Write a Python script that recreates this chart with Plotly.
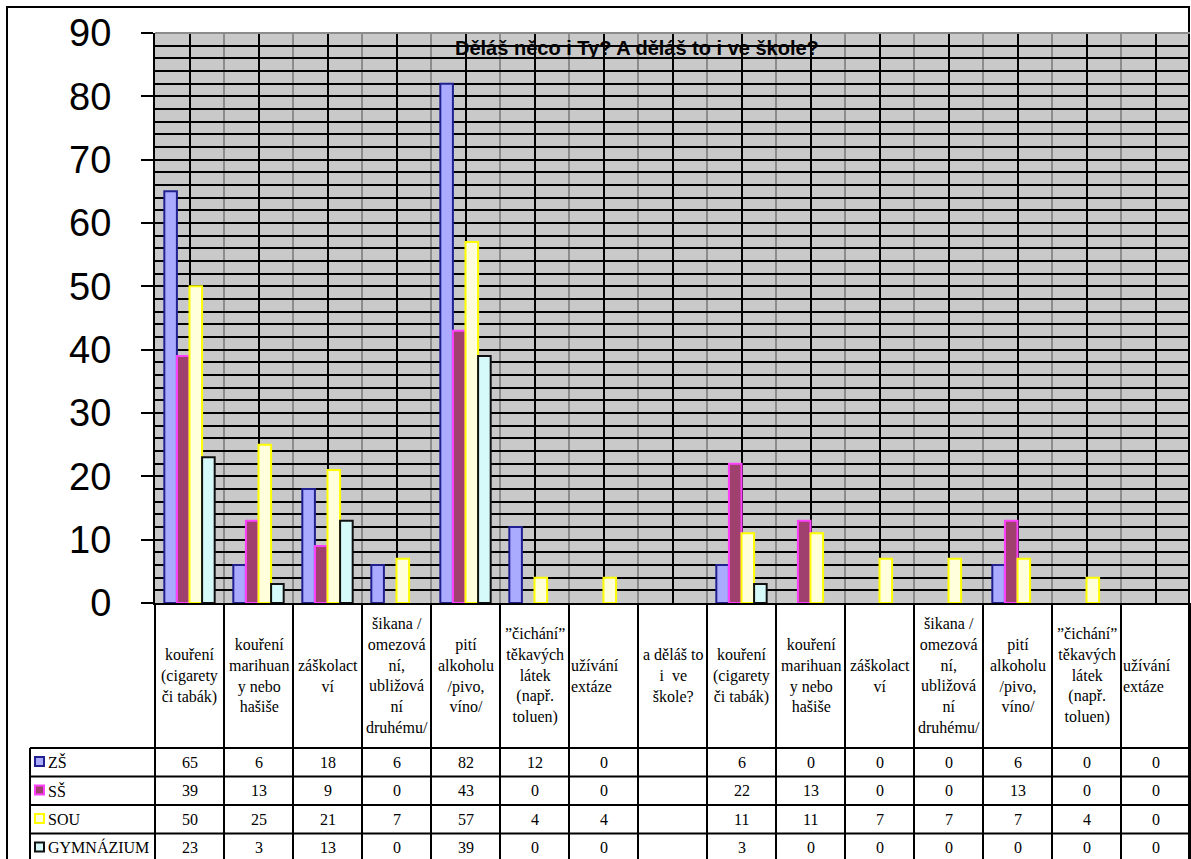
import plotly.graph_objects as go

# ---------------- data ----------------
categories = [
    "kou\u0159en\u00ed<br>(cigarety<br>\u010di tab\u00e1k)",
    "kou\u0159en\u00ed<br>marihuan<br>y nebo<br>ha\u0161i\u0161e",
    "z\u00e1\u0161kolact<br>v\u00ed",
    "\u0161ikana /<br>omezov\u00e1<br>n\u00ed,<br>ubli\u017eov\u00e1<br>n\u00ed<br>druh\u00e9mu/",
    "pit\u00ed<br>alkoholu<br>/pivo,<br>v\u00edno/",
    "\u201d\u010dich\u00e1n\u00ed\u201d<br>t\u011bkav\u00fdch<br>l\u00e1tek<br>(nap\u0159.<br>toluen)",
    "u\u017e\u00edv\u00e1n\u00ed<br>ext\u00e1ze",
    "a d\u011bl\u00e1\u0161 to<br>i  ve<br>\u0161kole?",
    "kou\u0159en\u00ed<br>(cigarety<br>\u010di tab\u00e1k)",
    "kou\u0159en\u00ed<br>marihuan<br>y nebo<br>ha\u0161i\u0161e",
    "z\u00e1\u0161kolact<br>v\u00ed",
    "\u0161ikana /<br>omezov\u00e1<br>n\u00ed,<br>ubli\u017eov\u00e1<br>n\u00ed<br>druh\u00e9mu/",
    "pit\u00ed<br>alkoholu<br>/pivo,<br>v\u00edno/",
    "\u201d\u010dich\u00e1n\u00ed\u201d<br>t\u011bkav\u00fdch<br>l\u00e1tek<br>(nap\u0159.<br>toluen)",
    "u\u017e\u00edv\u00e1n\u00ed<br>ext\u00e1ze",
]
series_names = ["Z\u0160", "S\u0160", "SOU", "GYMN\u00c1ZIUM"]
zs = [65, 6, 18, 6, 82, 12, 0, None, 6, 0, 0, 0, 6, 0, 0]
ss = [39, 13, 9, 0, 43, 0, 0, None, 22, 13, 0, 0, 13, 0, 0]
sou = [50, 25, 21, 7, 57, 4, 4, None, 11, 11, 7, 7, 7, 4, 0]
gym = [23, 3, 13, 0, 39, 0, 0, None, 3, 0, 0, 0, 0, 0, 0]
title_text = "D\u011bl\u00e1\u0161 n\u011bco i Ty? A d\u011bl\u00e1\u0161 to i ve \u0161kole?"

# ---------------- styles ----------------
fills = ["#AAAAFF", "#A0406E", "#FFFFDC", "#D6FAFA"]
edges = ["#202090", "#FF40FF", "#FFFF00", "#111111"]
W, H = 1191, 859
L, R, T, B = 155, 1, 33, 256
PW = W - L - R
PH = H - T - B


def px(xp):
    return (xp - L) / PW


def py(yp):
    return 1 - (yp - T) / PH


n = len(categories)
xs = list(range(n))
series = [zs, ss, sou, gym]

fig = go.Figure()
for name, vals, fc, ec in zip(series_names, series, fills, edges):
    # zero values are not drawn as bars (as in the original chart)
    fig.add_trace(go.Bar(
        x=xs, y=[v if v else None for v in vals], name=name,
        marker=dict(color=fc, line=dict(color=ec, width=2)),
        showlegend=False, hoverinfo="skip",
    ))

shapes = []
annotations = []

# title inside plot
annotations.append(dict(
    xref="paper", yref="paper", x=px(637), y=py(48), text="<b>" + title_text + "</b>",
    showarrow=False, xanchor="center", yanchor="middle",
    font=dict(family="Liberation Sans, Arial", size=20, color="black"),
))

# ---------------- data table ----------------
row_lines = [748, 776.5, 805, 833.5, 862]
row_centers = [762, 790.5, 819, 847.5]
header_center = 675.5
serif = dict(family="Liberation Serif, Times New Roman", size=16, color="black")

# column verticals (category boundaries)
for k in range(n + 1):
    xb = k - 0.5
    if k == 0:
        shapes.append(dict(type="line", xref="paper", yref="paper", x0=0, x1=0,
                           y0=py(603), y1=py(870), line=dict(color="black", width=2)))
    elif k == n:
        shapes.append(dict(type="line", xref="paper", yref="paper", x0=1, x1=1,
                           y0=py(603), y1=py(870), line=dict(color="black", width=2)))
    else:
        shapes.append(dict(type="line", xref="x", yref="paper", x0=xb, x1=xb,
                           y0=py(603), y1=py(870), line=dict(color="black", width=2)))

# legend column left border
shapes.append(dict(type="line", xref="paper", yref="paper", x0=px(30), x1=px(30),
                   y0=py(748), y1=py(870), line=dict(color="black", width=2)))
# row lines
for yl in row_lines:
    shapes.append(dict(type="line", xref="paper", yref="paper", x0=px(30), x1=1,
                       y0=py(yl), y1=py(yl), line=dict(color="black", width=2)))

# header labels
for i, cat in enumerate(categories):
    if cat.startswith("u\u017e\u00edv\u00e1n\u00ed"):
        annotations.append(dict(xref="x", yref="paper", x=i - 0.5, y=py(header_center),
                                text=cat, showarrow=False, xanchor="left", yanchor="middle",
                                align="left", font=serif))
    else:
        annotations.append(dict(xref="x", yref="paper", x=i, y=py(header_center),
                                text=cat, showarrow=False, xanchor="center", yanchor="middle",
                                align="center", font=serif))

# cell values and legend keys
for r, (name, vals, fc, ec) in enumerate(zip(series_names, series, fills, edges)):
    yc = row_centers[r]
    for i, v in enumerate(vals):
        if v is None:
            continue
        annotations.append(dict(xref="x", yref="paper", x=i, y=py(yc), text=str(v),
                                showarrow=False, xanchor="center", yanchor="middle", font=serif))
    shapes.append(dict(type="rect", xref="paper", yref="paper",
                       x0=px(35), x1=px(44), y0=py(yc + 4), y1=py(yc - 5),
                       fillcolor=fc, line=dict(color=ec, width=2)))
    annotations.append(dict(xref="paper", yref="paper", x=px(46), y=py(yc), text=name,
                            showarrow=False, xanchor="left", yanchor="middle", font=serif))

# grey top border of the plot area
shapes.append(dict(type="line", xref="paper", yref="paper", x0=0, x1=1, y0=1, y1=1,
                   line=dict(color="#8C8C8C", width=2)))

# outer chart border
shapes.append(dict(type="rect", xref="paper", yref="paper", x0=px(7), x1=px(1189),
                   y0=py(880), y1=py(7), line=dict(color="black", width=2),
                   fillcolor="rgba(0,0,0,0)", layer="below"))

fig.update_layout(
    width=W, height=H,
    margin=dict(l=L, r=R, t=T, b=B, autoexpand=False),
    paper_bgcolor="white",
    plot_bgcolor="#C9C9C9",
    barmode="group", bargap=0.27, bargroupgap=0,
    shapes=shapes, annotations=annotations,
    xaxis=dict(
        range=[-0.5, n - 0.5], tickmode="linear", tick0=0, dtick=1,
        showticklabels=False, ticks="",
        showgrid=True, gridcolor="black", gridwidth=2,
        minor=dict(tick0=0.5, dtick=1, showgrid=True, gridcolor="#8C8C8C", gridwidth=2, ticks=""),
        showline=True, linecolor="black", linewidth=2, zeroline=False, automargin=False,
    ),
    yaxis=dict(
        range=[0, 90], tickmode="linear", tick0=0, dtick=10,
        ticks="outside", ticklen=12, tickwidth=2,
        tickcolor="black", ticklabelstandoff=22,
        tickfont=dict(family="Liberation Sans, Arial", size=38, color="black"),
        showgrid=True, gridcolor="black", gridwidth=2,
        minor=dict(tick0=0, dtick=2, showgrid=True, gridcolor="black", gridwidth=2, ticks=""),
        showline=True, linecolor="black", linewidth=2, zeroline=False, automargin=False,
    ),
)

fig.write_html("out.html")
